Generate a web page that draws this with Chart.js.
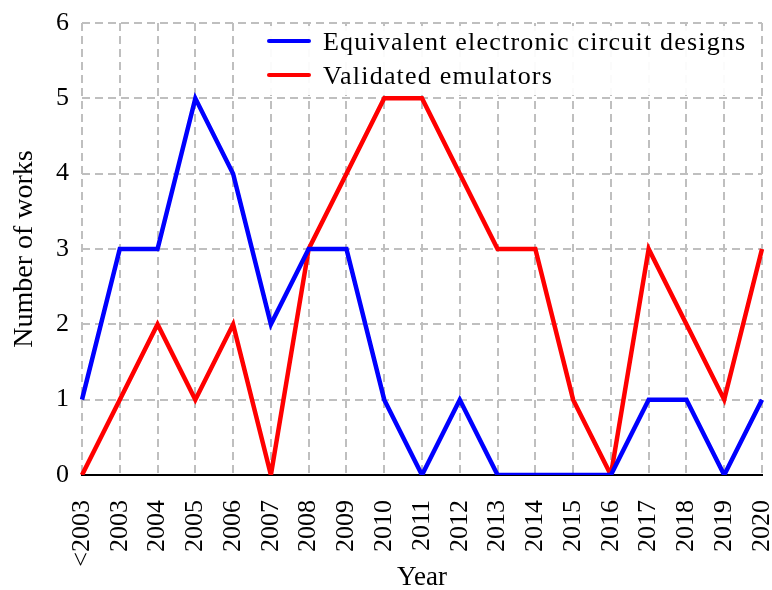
<!DOCTYPE html>
<html>
<head>
<meta charset="utf-8">
<script src="https://cdn.jsdelivr.net/npm/chart.js@4"></script>
<style>
  html, body { margin: 0; padding: 0; background: #fff; }
  #wrap { width: 772px; height: 590px; }
</style>
</head>
<body>
<div id="wrap"><canvas id="chart" width="772" height="590"></canvas></div>
<script>
// ─── DATA ─────────────────────────────────────────────────────
const years = ['<2003', '2003', '2004', '2005', '2006', '2007', '2008', '2009', '2010',
               '2011', '2012', '2013', '2014', '2015', '2016', '2017', '2018', '2019', '2020'];
const circuitDesigns = [1, 3, 3, 5, 4, 2, 3, 3, 1, 0, 1, 0, 0, 0, 0, 1, 1, 0, 1];
const emulators      = [0, 1, 2, 1, 2, 0, 3, 4, 5, 5, 4, 3, 3, 1, 0, 3, 2, 1, 3];
const yTicks = [0, 1, 2, 3, 4, 5, 6];

const FONT = '"Liberation Serif", "DejaVu Serif", serif';

// ─── LEGEND (drawn inside the plot, top right) ───────────────
const insideLegend = {
    id: 'insideLegend',
    afterDatasetsDraw(chart) {
        const ctx = chart.ctx;
        ctx.save();
        ctx.fillStyle = 'rgba(255,255,255,0.93)';
        ctx.fillRect(262, 26, 495, 69);
        ctx.font = '26px ' + FONT;
        ctx.letterSpacing = '1.2px';
        ctx.textBaseline = 'middle';
        chart.data.datasets.forEach((ds, i) => {
            const y = 41 + i * 34;
            ctx.strokeStyle = ds.borderColor;
            ctx.lineWidth = 4;
            ctx.lineCap = 'round';
            ctx.beginPath();
            ctx.moveTo(269, y);
            ctx.lineTo(309, y);
            ctx.stroke();
            ctx.fillStyle = '#000';
            ctx.fillText(ds.label, 323, y + 2);
        });
        ctx.restore();
    }
};

// ─── CHART ───────────────────────────────────────────────────
const gridStyle = { color: '#bfbfbf', lineWidth: 2, drawTicks: false };

new Chart(document.getElementById('chart'), {
    type: 'line',
    data: {
        labels: years,
        datasets: [
            { label: 'Equivalent electronic circuit designs', data: circuitDesigns,
              borderColor: '#0000ff', borderWidth: 4.5, pointRadius: 0, tension: 0 },
            { label: 'Validated emulators', data: emulators,
              borderColor: '#ff0000', borderWidth: 4.5, pointRadius: 0, tension: 0 }
        ]
    },
    options: {
        responsive: false,
        animation: false,
        layout: { padding: { left: 0, right: 10, top: 23, bottom: 0 } },
        plugins: { legend: { display: false }, tooltip: { enabled: false } },
        scales: {
            x: {
                type: 'category',
                offset: false,
                grid: gridStyle,
                border: { display: true, color: '#000', width: 2, dash: [8, 5] },
                ticks: {
                    color: '#000', font: { family: FONT, size: 26 },
                    minRotation: 90, maxRotation: 90, autoSkip: false, padding: 25
                },
                title: { display: true, text: 'Year', color: '#000',
                         font: { family: FONT, size: 27, lineHeight: 0.9 },
                         padding: { top: 0, bottom: 0 } },
                afterFit(scale) {
                    scale.height = 115;
                    scale.paddingLeft = 0;
                    scale.paddingRight = 0;
                }
            },
            y: {
                min: 0, max: 6,
                afterBuildTicks(scale) { scale.ticks = yTicks.map(v => ({ value: v })); },
                grid: gridStyle,
                border: { display: false, dash: [8, 5] },
                ticks: { color: '#000', font: { family: FONT, size: 26 }, padding: 13 },
                title: { display: true, text: 'Number of works', color: '#000',
                         font: { family: FONT, size: 28 }, padding: { top: 8, bottom: 0 } },
                afterFit(scale) {
                    scale.width = 82;
                    scale.paddingTop = 0;
                    scale.paddingBottom = 0;
                }
            }
        }
    },
    plugins: [insideLegend]
});
</script>
</body>
</html>
